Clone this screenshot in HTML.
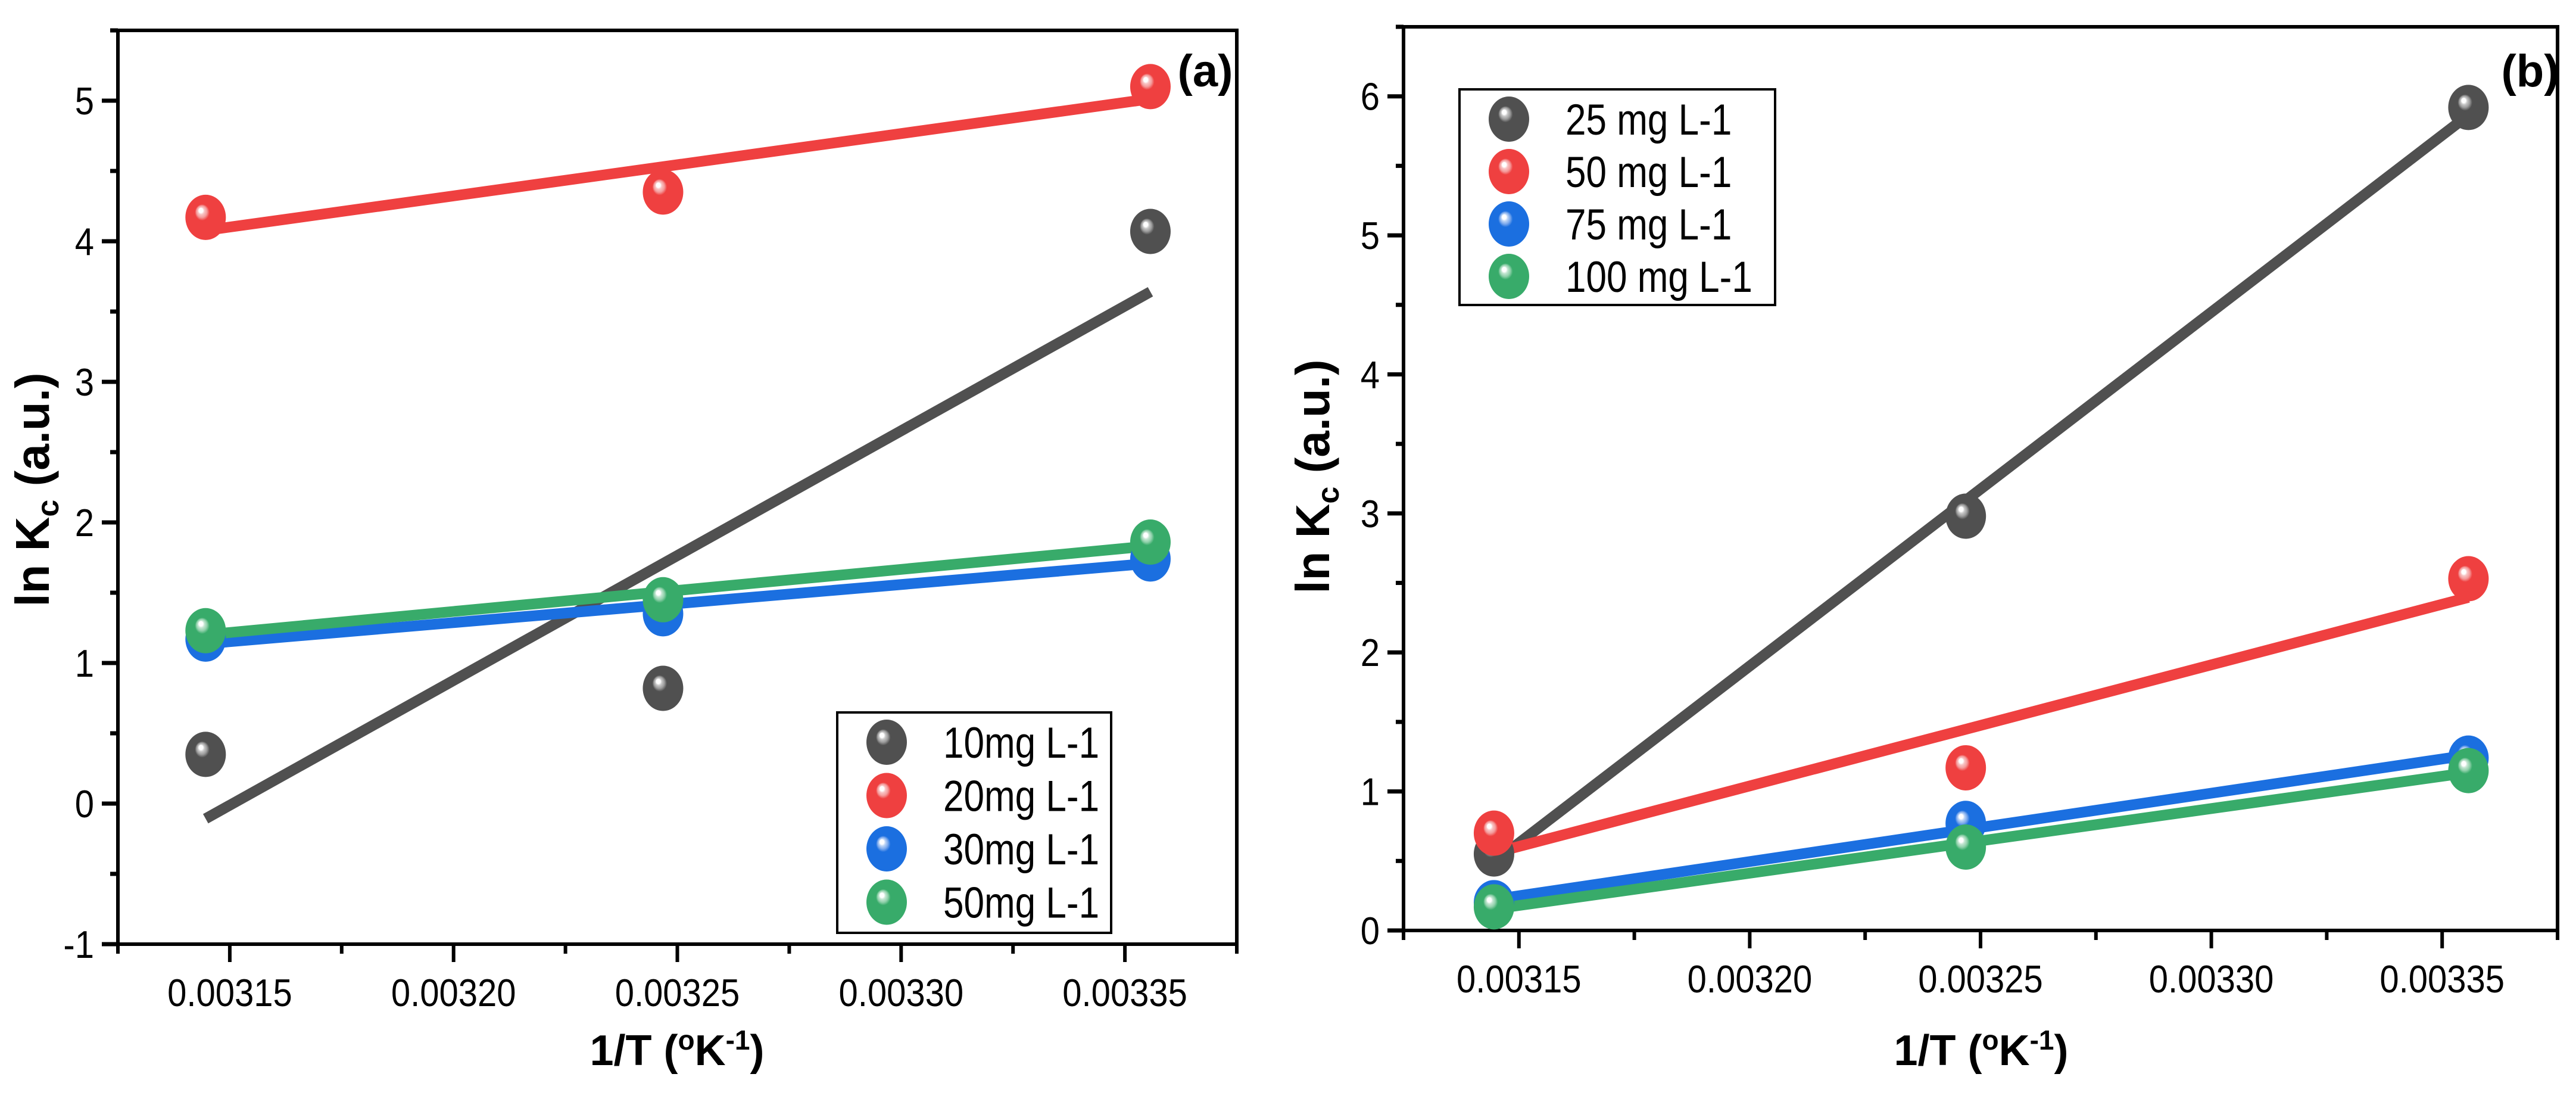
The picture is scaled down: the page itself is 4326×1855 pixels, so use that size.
<!DOCTYPE html>
<html><head><meta charset="utf-8"><style>
html,body{margin:0;padding:0;background:#fff}
svg{display:block}
text{font-family:"Liberation Sans",Arial,sans-serif;fill:#000}
</style></head><body>
<svg id="fig" xmlns="http://www.w3.org/2000/svg" width="4326" height="1855" viewBox="0 0 4326 1855">
<defs>
<radialGradient id="g-gray" cx="0.5" cy="0.5" r="0.5" fx="0.37" fy="0.33"><stop offset="0" stop-color="#fff"/><stop offset="0.1" stop-color="#fff"/><stop offset="0.16" stop-color="#c8c8c8"/><stop offset="0.26" stop-color="#9a9a9a"/><stop offset="0.36" stop-color="#505050"/><stop offset="1" stop-color="#505050"/></radialGradient>
<radialGradient id="g-red" cx="0.5" cy="0.5" r="0.5" fx="0.37" fy="0.33"><stop offset="0" stop-color="#fff"/><stop offset="0.1" stop-color="#fff"/><stop offset="0.16" stop-color="#f8c4c4"/><stop offset="0.26" stop-color="#f49a9a"/><stop offset="0.36" stop-color="#ef4040"/><stop offset="1" stop-color="#ef4040"/></radialGradient>
<radialGradient id="g-blue" cx="0.5" cy="0.5" r="0.5" fx="0.37" fy="0.33"><stop offset="0" stop-color="#fff"/><stop offset="0.1" stop-color="#fff"/><stop offset="0.16" stop-color="#bcd4f6"/><stop offset="0.26" stop-color="#7aa8ec"/><stop offset="0.36" stop-color="#1b6fe0"/><stop offset="1" stop-color="#1b6fe0"/></radialGradient>
<radialGradient id="g-green" cx="0.5" cy="0.5" r="0.5" fx="0.37" fy="0.33"><stop offset="0" stop-color="#fff"/><stop offset="0.1" stop-color="#fff"/><stop offset="0.16" stop-color="#c4e6d2"/><stop offset="0.26" stop-color="#8fd0aa"/><stop offset="0.36" stop-color="#38ab6a"/><stop offset="1" stop-color="#38ab6a"/></radialGradient>
</defs>
</svg>
<script>
// ---- data ----
const xValues = [0.0031446, 0.0032468, 0.0033557];
const xTicks = [0.00315, 0.00320, 0.00325, 0.00330, 0.00335];
const xTickLabels = ["0.00315", "0.00320", "0.00325", "0.00330", "0.00335"];
const seriesNamesA = ["10mg L-1", "20mg L-1", "30mg L-1", "50mg L-1"];
const a10 = [0.35, 0.82, 4.07];
const a20 = [4.17, 4.35, 5.10];
const a30 = [1.17, 1.35, 1.74];
const a50 = [1.23, 1.45, 1.86];
const yTicksA = [-1, 0, 1, 2, 3, 4, 5];
const yTickLabelsA = ["-1", "0", "1", "2", "3", "4", "5"];
const seriesNamesB = ["25 mg L-1", "50 mg L-1", "75 mg L-1", "100 mg L-1"];
const b25 = [0.55, 2.98, 5.92];
const b50 = [0.70, 1.17, 2.53];
const b75 = [0.20, 0.77, 1.24];
const b100 = [0.17, 0.60, 1.15];
const yTicksB = [0, 1, 2, 3, 4, 5, 6];
const yTickLabelsB = ["0", "1", "2", "3", "4", "5", "6"];

const NS = "http://www.w3.org/2000/svg";
const svg = document.getElementById('fig');
const colors = ["#505050", "#ef4040", "#1b6fe0", "#38ab6a"];
const grads = ["url(#g-gray)", "url(#g-red)", "url(#g-blue)", "url(#g-green)"];
function mk(tag, attrs, parent) {
  const e = document.createElementNS(NS, tag);
  for (const k in attrs) e.setAttribute(k, attrs[k]);
  (parent || svg).appendChild(e);
  return e;
}
function fit(xs, ys) {
  const n = xs.length; let mx = 0, my = 0;
  for (let i = 0; i < n; i++) { mx += xs[i]; my += ys[i]; }
  mx /= n; my /= n; let sxy = 0, sxx = 0;
  for (let i = 0; i < n; i++) { sxy += (xs[i]-mx)*(ys[i]-my); sxx += (xs[i]-mx)*(xs[i]-mx); }
  const b = sxy / sxx; return [b, my - b*mx];
}
function panel(cfg) {
  const g = mk('g', {});
  
  
  const X = v => cfg.L + (v - cfg.xmin) / (cfg.xmax - cfg.xmin) * (cfg.R - cfg.L);
  const Y = v => cfg.B - (v - cfg.ymin) / (cfg.ymax - cfg.ymin) * (cfg.B - cfg.T);
  const fr = mk('rect', {x: cfg.L, y: cfg.T, width: cfg.R - cfg.L, height: cfg.B - cfg.T, fill: 'none', stroke: '#000', 'stroke-width': 6}, g);
  
  
  const xstep = 0.00005;
  for (let k = -1; k < xTicks.length; k++) {
    const mv = (k < 0 ? xTicks[0] : xTicks[k]) + (k < 0 ? -xstep/2 : xstep/2);
    if (mv > cfg.xmin - 1e-9 && mv < cfg.xmax + 1e-9) {
      const mt = mk('line', {x1: X(mv), x2: X(mv), y1: cfg.B, y2: cfg.B + 16, stroke: '#000', 'stroke-width': 6}, g);
      
      
    }
  }
  xTicks.forEach((v, i) => {
    const t = mk('line', {x1: X(v), x2: X(v), y1: cfg.B, y2: cfg.B + 30, stroke: '#000', 'stroke-width': 6}, g);
    
    
    const tl = mk('text', {x: 0, y: 0, 'font-size': 58, 'text-anchor': 'middle', transform: `translate(${X(v)},${cfg.B + 104}) scale(1,1.12)`}, g);
    
    
    tl.textContent = xTickLabels[i];
  });
  cfg.yTicks.forEach((v, i) => {
    const t = mk('line', {x1: cfg.L - 27, x2: cfg.L, y1: Y(v), y2: Y(v), stroke: '#000', 'stroke-width': 7}, g);
    
    
    const mv = v + 0.5;
    if (mv <= cfg.ymax) {
      const mt = mk('line', {x1: cfg.L - 13, x2: cfg.L, y1: Y(mv), y2: Y(mv), stroke: '#000', 'stroke-width': 7}, g);
      
      
    }
    const tl = mk('text', {x: 0, y: 0, 'font-size': 58, 'text-anchor': 'end', transform: `translate(${cfg.L - 40},${Y(v) + 23}) scale(1,1.12)`}, g);
    
    
    tl.textContent = cfg.yTickLabels[i];
  });
  const xt = mk('text', {x: cfg.xtx, y: 1788, 'font-size': 72, 'font-weight': 'bold', 'text-anchor': 'middle'}, g);
  
  
  xt.innerHTML = '1/T (<tspan font-size="46" dy="-26">o</tspan><tspan dy="26">K</tspan><tspan font-size="46" dy="-26">-1</tspan><tspan dy="26">)</tspan>';
  const yt = mk('text', {x: 0, y: 0, 'font-size': 80, 'font-weight': 'bold', 'text-anchor': 'middle', transform: `translate(${cfg.ytx},${cfg.yty}) rotate(-90)`}, g);
  
  
  yt.innerHTML = 'ln K<tspan font-size="52" dy="16">c</tspan><tspan dy="-16"> (a.u.)</tspan>';
  const pl = mk('text', {x: cfg.labx, y: cfg.laby, 'font-size': 76, 'font-weight': 'bold', 'text-anchor': 'middle'}, g);
  
  
  pl.textContent = cfg.label;
  cfg.series.forEach((ys, si) => {
    const [b, a0] = fit(xValues, ys);
    const x0 = xValues[0], x1 = xValues[xValues.length - 1];
    const ln = mk('line', {x1: X(x0), y1: Y(a0 + b*x0), x2: X(x1), y2: Y(a0 + b*x1), stroke: colors[si], 'stroke-width': 18}, g);
    
    
  });
  cfg.series.forEach((ys, si) => {
    ys.forEach((v, i) => {
      const m = mk('ellipse', {cx: X(xValues[i]), cy: Y(v), rx: 34, ry: 38, fill: grads[si]}, g);
      
      
    });
  });
  const lg = mk('g', {}, g);
  
  
  const lb = mk('rect', {x: cfg.lgx, y: cfg.lgy, width: cfg.lgw, height: cfg.lgh, fill: '#fff', stroke: '#000', 'stroke-width': 4}, lg);
  
  
  cfg.names.forEach((n, si) => {
    const cy = cfg.lgy + 50 + si * cfg.lgstep;
    const m = mk('ellipse', {cx: cfg.lgx + 83, cy: cy, rx: 34, ry: 38, fill: grads[si]}, lg);
    
    
    const t = mk('text', {x: 0, y: 0, 'font-size': 73, transform: `translate(${cfg.lgx + 178},${cy + 26}) scale(0.85,1)`}, lg);
    
    
    t.textContent = n;
  });
}
panel({name: 'panel-a', L: 198, R: 2077, T: 51, B: 1585, xmin: 0.003125, xmax: 0.003375, ymin: -1, ymax: 5.5,
  yTicks: yTicksA, yTickLabels: yTickLabelsA, series: [a10, a20, a30, a50], names: seriesNamesA,
  xtx: 1137, ytx: 82, yty: 822, label: '(a)', labx: 2024, laby: 145,
  lgx: 1406, lgy: 1196, lgw: 460, lgh: 370, lgstep: 89.5});
panel({name: 'panel-b', L: 2357, R: 4295, T: 45, B: 1562, xmin: 0.003125, xmax: 0.003375, ymin: 0, ymax: 6.5,
  yTicks: yTicksB, yTickLabels: yTickLabelsB, series: [b25, b50, b75, b100], names: seriesNamesB,
  xtx: 3327, ytx: 2232, yty: 800, label: '(b)', labx: 4249, laby: 145,
  lgx: 2451, lgy: 150, lgw: 530, lgh: 362, lgstep: 88});
</script>
</body></html>
